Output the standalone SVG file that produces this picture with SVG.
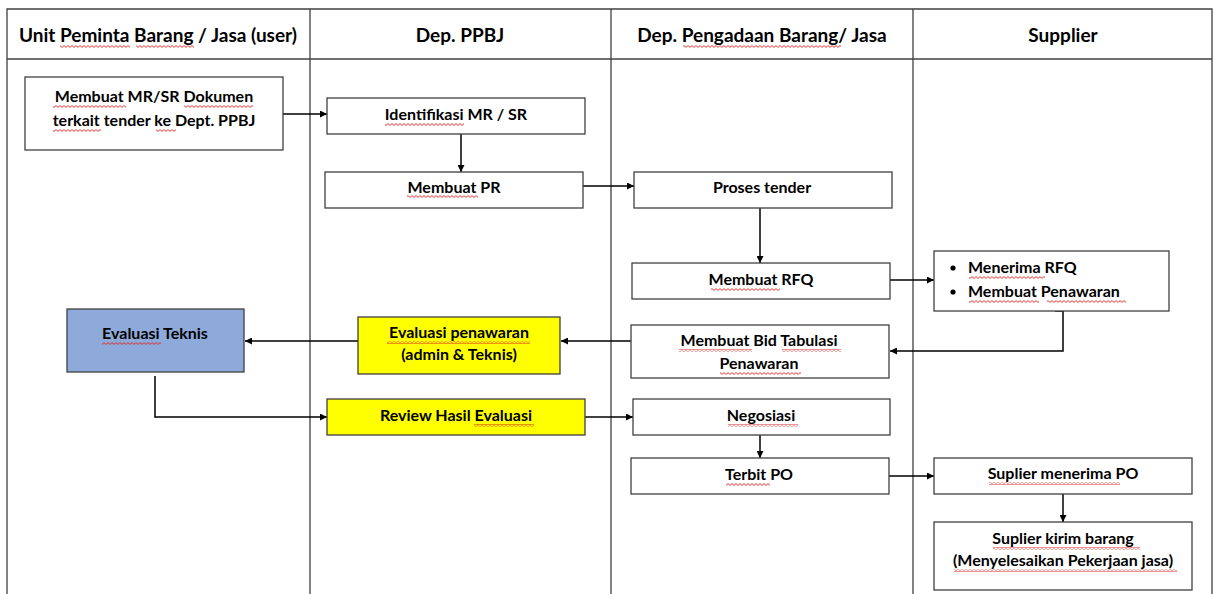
<svg xmlns="http://www.w3.org/2000/svg" width="1216" height="594" viewBox="0 0 1216 594">
  <style>
    text { font-family: Lato, "Liberation Sans", sans-serif; font-weight: 700; font-size: 16px; fill: #000; }
    .c { text-anchor: middle; }
    .hd { font-size: 19px; }
    .grid { stroke: #404040; stroke-width: 1.3; fill: none; }
    .box { fill: #fff; stroke: #404040; stroke-width: 1.3; }
    .yellow { fill: #ffff00; }
    .blue { fill: #8eaadb; }
    .edge { stroke: #000; stroke-width: 1.5; fill: none; marker-end: url(#arrow); }
    .sq { fill: url(#wavy); }
  </style>
  <defs>
    <marker id="arrow" viewBox="0 0 10 10" refX="10" refY="5" markerWidth="7" markerHeight="7" markerUnits="userSpaceOnUse" orient="auto">
      <path d="M0,0 L10,5 L0,10 z" fill="#000"/>
    </marker>
    <!-- red zigzag used for proofing underlines -->
    <pattern id="wavy" width="4" height="3" patternUnits="userSpaceOnUse">
      <path d="M0,0.6 L2,2.4 L4,0.6" stroke="#e02020" stroke-width="0.9" fill="none"/>
    </pattern>
  </defs>

  <rect width="1216" height="594" fill="#fff"/>

  <!-- swimlane table -->
  <g id="lanes">
    <path class="grid" d="M7,594 V9 H1212 V594"/>
    <path class="grid" d="M7,59 H1212"/>
    <path class="grid" d="M310,9 V594 M611,9 V594 M913,9 V594"/>
    <text class="c hd" x="158" y="42">Unit <tspan class="w">Peminta</tspan> <tspan class="w">Barang</tspan> / Jasa (user)</text>
    <text class="c hd" x="460" y="42">Dep. PPBJ</text>
    <text class="c hd" x="762" y="42">Dep. <tspan class="w">Pengadaan</tspan> <tspan class="w">Barang/</tspan> Jasa</text>
    <text class="c hd" x="1063" y="42">Supplier</text>
  </g>

  <!-- connectors -->
  <g id="connectors">
    <path class="edge" d="M283,114 H327"/>
    <path class="edge" d="M461,134 V172"/>
    <path class="edge" d="M583,186 H634"/>
    <path class="edge" d="M760,208 V263"/>
    <path class="edge" d="M890,280 H934"/>
    <path class="edge" d="M1055,311 H1063 V351 H890"/>
    <path class="edge" d="M631,341 H561"/>
    <path class="edge" d="M358,341 H245"/>
    <path class="edge" d="M155,376 V417 H327"/>
    <path class="edge" d="M585,417 H633"/>
    <path class="edge" d="M760,435 V458"/>
    <path class="edge" d="M889,476 H934"/>
    <path class="edge" d="M1063,494 V522"/>
  </g>

  <g id="n1">
    <rect class="box" x="25" y="77" width="258" height="73"/>
    <text class="c" x="154" y="102"><tspan class="w">Membuat</tspan> MR/SR <tspan class="w">Dokumen</tspan></text>
    <text class="c" x="154" y="126"><tspan class="w">terkait</tspan> tender <tspan class="w">ke</tspan> Dept. PPBJ</text>
  </g>
  <g id="n2">
    <rect class="box" x="327" y="98" width="258" height="36"/>
    <text class="c" x="456" y="120"><tspan class="w">Identifikasi</tspan> MR / SR</text>
  </g>
  <g id="n3">
    <rect class="box" x="325" y="172" width="258" height="36"/>
    <text class="c" x="454" y="193"><tspan class="w">Membuat</tspan> PR</text>
  </g>
  <g id="n4">
    <rect class="box" x="634" y="172" width="258" height="36"/>
    <text class="c" x="762" y="193">Proses tender</text>
  </g>
  <g id="n5">
    <rect class="box" x="632" y="263" width="258" height="36"/>
    <text class="c" x="761" y="285"><tspan class="w">Membuat</tspan> RFQ</text>
  </g>
  <g id="n6">
    <rect class="box" x="934" y="251" width="235" height="60"/>
    <circle cx="953" cy="268" r="2.6" fill="#000"/>
    <circle cx="953" cy="292" r="2.6" fill="#000"/>
    <text x="968" y="273"><tspan class="w">Menerima</tspan> RFQ</text>
    <text x="968" y="297"><tspan class="w">Membuat</tspan> <tspan class="w">Penawaran</tspan></text>
  </g>
  <g id="n7">
    <rect class="box blue" x="67" y="309" width="177" height="63"/>
    <text class="c" x="155" y="339"><tspan class="w">Evaluasi</tspan> Teknis</text>
  </g>
  <g id="n8">
    <rect class="box yellow" x="358" y="317" width="202" height="57"/>
    <text class="c" x="459" y="338"><tspan class="w">Evaluasi</tspan> <tspan class="w">penawaran</tspan></text>
    <text class="c" x="459" y="360">(admin &amp; Teknis)</text>
  </g>
  <g id="n9">
    <rect class="box" x="631" y="325" width="258" height="53"/>
    <text class="c" x="759" y="346"><tspan class="w">Membuat</tspan> Bid <tspan class="w">Tabulasi</tspan></text>
    <text class="c" x="759" y="369"><tspan class="w">Penawaran</tspan></text>
  </g>
  <g id="n10">
    <rect class="box yellow" x="327" y="399" width="258" height="36"/>
    <text class="c" x="456" y="421">Review Hasil <tspan class="w">Evaluasi</tspan></text>
  </g>
  <g id="n11">
    <rect class="box" x="633" y="399" width="257" height="36"/>
    <text class="c" x="761" y="421"><tspan class="w">Negosiasi</tspan></text>
  </g>
  <g id="n12">
    <rect class="box" x="631" y="458" width="258" height="36"/>
    <text class="c" x="759" y="480"><tspan class="w">Terbit</tspan> PO</text>
  </g>
  <g id="n13">
    <rect class="box" x="934" y="458" width="258" height="36"/>
    <text class="c" x="1063" y="479"><tspan class="w">Suplier</tspan> <tspan class="w">menerima</tspan> PO</text>
  </g>
  <g id="n14">
    <rect class="box" x="934" y="522" width="258" height="68"/>
    <text class="c" x="1063" y="544"><tspan class="w">Suplier</tspan> <tspan class="w">kirim</tspan> <tspan class="w">barang</tspan></text>
    <text class="c" x="1063" y="566">(<tspan class="w">Menyelesaikan</tspan> <tspan class="w">Pekerjaan</tspan> <tspan class="w">jasa</tspan>)</text>
  </g>

  <!-- red proofing underlines beneath flagged words -->
  <g id="proofing">
    <rect class="sq" x="60" y="45" width="70" height="3"/>
    <rect class="sq" x="136" y="45" width="58" height="3"/>
    <rect class="sq" x="683" y="45" width="158" height="3"/>
    <rect class="sq" x="53" y="105" width="73" height="3"/>
    <rect class="sq" x="184" y="105" width="69" height="3"/>
    <rect class="sq" x="53" y="129" width="48" height="3"/>
    <rect class="sq" x="156" y="129" width="20" height="3"/>
    <rect class="sq" x="385" y="123" width="79" height="3"/>
    <rect class="sq" x="407" y="195" width="71" height="3"/>
    <rect class="sq" x="711" y="288" width="69" height="3"/>
    <rect class="sq" x="969" y="276" width="76" height="3"/>
    <rect class="sq" x="969" y="300" width="70" height="3"/>
    <rect class="sq" x="1047" y="300" width="79" height="3"/>
    <rect class="sq" x="102" y="342" width="59" height="3"/>
    <rect class="sq" x="387" y="341" width="143" height="3"/>
    <rect class="sq" x="679" y="349" width="73" height="3"/>
    <rect class="sq" x="782" y="349" width="59" height="3"/>
    <rect class="sq" x="720" y="372" width="81" height="3"/>
    <rect class="sq" x="474" y="424" width="60" height="3"/>
    <rect class="sq" x="728" y="424" width="70" height="3"/>
    <rect class="sq" x="726" y="483" width="44" height="3"/>
    <rect class="sq" x="989" y="482" width="131" height="3"/>
    <rect class="sq" x="993" y="547" width="147" height="3"/>
    <rect class="sq" x="954" y="569" width="223" height="3"/>
  </g>
</svg>
